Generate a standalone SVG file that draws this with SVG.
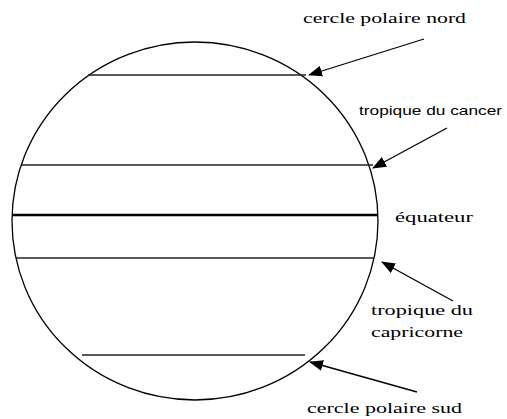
<svg xmlns="http://www.w3.org/2000/svg" width="507" height="419" viewBox="0 0 507 419">
<defs>
<marker id="ah" markerWidth="14" markerHeight="11" refX="13" refY="5.5" orient="auto" markerUnits="userSpaceOnUse">
<path d="M0,0 L14,5.5 L0,11 Z" fill="#000"/>
</marker>
<style>
.ln{stroke:#222;stroke-width:1.4;fill:none}
.eq{stroke:#000;stroke-width:2.5;fill:none}
.ar{stroke:#000;stroke-width:1.3;fill:none;marker-end:url(#ah)}
.s{font-family:"Liberation Serif","DejaVu Serif",serif;font-size:15px;fill:#000}
.ss{font-family:"Liberation Sans",sans-serif;font-size:13px;fill:#000}
</style>
</defs>
<rect width="507" height="419" fill="#fff"/>
<g id="globe">
<ellipse cx="195" cy="221" rx="183" ry="179" fill="none" stroke="#000" stroke-width="1.3"/>
<line class="ln" x1="88" y1="75" x2="306" y2="75"/>
<line class="ln" x1="22" y1="165" x2="373" y2="165"/>
<line class="eq" x1="12" y1="215" x2="378" y2="215"/>
<line class="ln" x1="16" y1="258" x2="373" y2="258"/>
<line class="ln" x1="82" y1="355" x2="305" y2="355"/>
</g>
<g id="connectors">
<line class="ar" x1="424" y1="39" x2="309" y2="75"/>
<line class="ar" x1="447" y1="128" x2="373" y2="168"/>
<line class="ar" x1="453" y1="301" x2="382" y2="262"/>
<line class="ar" x1="417" y1="392" x2="310" y2="362"/>
</g>
<g id="label-nord"><text class="s" x="303" y="23" textLength="163" lengthAdjust="spacingAndGlyphs">cercle polaire nord</text></g>
<g id="label-cancer"><text class="ss" x="359" y="115" textLength="143" lengthAdjust="spacingAndGlyphs">tropique du cancer</text></g>
<g id="label-equateur"><text class="s" x="395" y="222" textLength="78" lengthAdjust="spacingAndGlyphs">équateur</text></g>
<g id="label-capricorne"><text class="s" x="371" y="315" textLength="102" lengthAdjust="spacingAndGlyphs">tropique du</text><text class="s" x="371" y="337" textLength="92" lengthAdjust="spacingAndGlyphs">capricorne</text></g>
<g id="label-sud"><text class="s" x="307" y="413" textLength="155" lengthAdjust="spacingAndGlyphs">cercle polaire sud</text></g>
</svg>
